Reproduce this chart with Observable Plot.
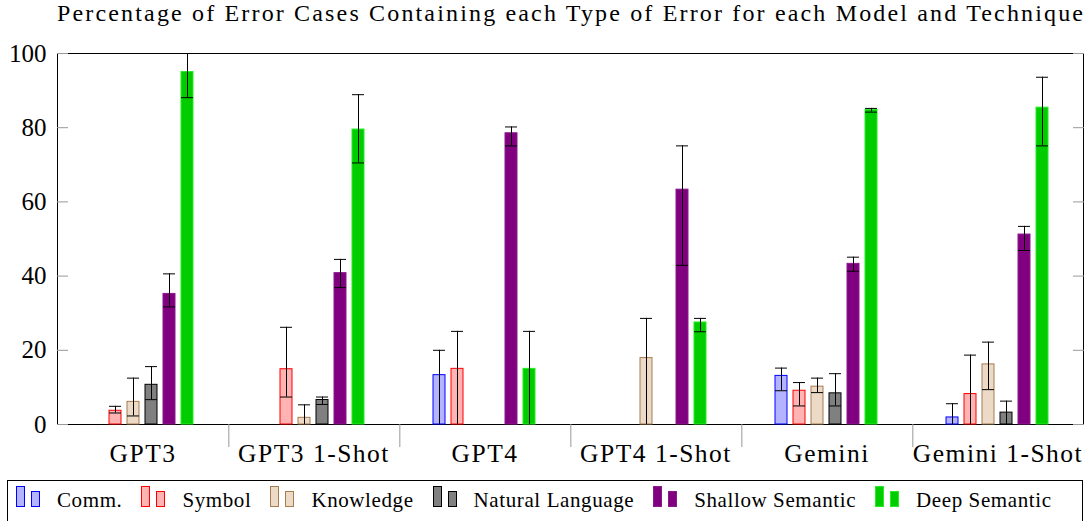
<!DOCTYPE html>
<html>
<head>
<meta charset="utf-8">
<script src="https://cdn.jsdelivr.net/npm/d3@7"></script>
<script src="https://cdn.jsdelivr.net/npm/@observablehq/plot@0.6"></script>
<style>
  body { margin: 0; background: #fff; font-family: "Liberation Serif", "Times New Roman", serif; }
  #wrap { position: relative; width: 1088px; height: 521px; overflow: hidden; background: #fff; }
  #title { position: absolute; left: 0; top: 0; }
  #chart { position: absolute; left: 0; top: 40px; }
  #chart g[aria-label="fx-axis tick label"] text { letter-spacing: 1.5px; }
  #legend {
    position: absolute; left: 7px; top: 480px; width: 1076px; height: 42px;
    border: 1px solid #000; box-sizing: border-box; display: flex; align-items: baseline;
    padding: 5px 0 0 8px; font-size: 21px; letter-spacing: 0.6px; line-height: 1; color: #000;
  }
  #legend > span { flex-shrink: 0; }
  #legend .ic { display: inline-block; box-sizing: border-box; width: 9px; border: 1px solid; }
  #legend .ic2 { margin-left: 6px; margin-right: 17px; }
  #legend .lab { margin-right: 19px; white-space: nowrap; }
</style>
</head>
<body>
<div id="wrap">
  <svg id="title" width="1088" height="40">
    <text x="570" y="21" text-anchor="middle" textLength="1026" lengthAdjust="spacing"
      font-size="24" font-family="'Liberation Serif', 'Times New Roman', serif" fill="#000">Percentage of Error Cases Containing each Type of Error for each Model and Technique</text>
  </svg>
  <div id="chart"></div>
  <div id="legend"></div>
</div>
<script>
// ---- data ----
const models = ["GPT3", "GPT3 1-Shot", "GPT4", "GPT4 1-Shot", "Gemini", "Gemini 1-Shot"];
const types = ["Comm.", "Symbol", "Knowledge", "Natural Language", "Shallow Semantic", "Deep Semantic"];
const yTicks = [0, 20, 40, 60, 80, 100];

const comm            = [0,    0,    13.3, 0,    13.1, 1.9];
const symbol          = [3.7,  14.9, 15.0, 0,    9.1,  8.2];
const knowledge       = [6.1,  1.8,  0,    17.9, 10.2, 16.2];
const naturalLanguage = [10.7, 6.6,  0,    0,    8.4,  3.2];
const shallowSemantic = [35.2, 40.8, 78.5, 63.3, 43.3, 51.2];
const deepSemantic    = [95.0, 79.5, 15.0, 27.5, 84.8, 85.4];

// error bar bounds (null = no error bar)
const commLow       = [null, null, 0,    null, 9.1,  0];
const commHigh      = [null, null, 20.0, null, 15.2, 5.6];
const symbolLow     = [3.1,  7.4,  0,    null, 5.0,  0];
const symbolHigh    = [4.9,  26.2, 25.1, null, 11.3, 18.7];
const knowledgeLow  = [2.3,  0,    null, 0,    8.6,  9.4];
const knowledgeHigh = [12.5, 5.3,  null, 28.6, 12.5, 22.2];
const naturalLow    = [6.7,  5.4,  null, null, 5.0,  0];
const naturalHigh   = [15.6, 7.4,  null, null, 13.7, 6.3];
const shallowLow    = [31.7, 36.9, 75.1, 42.9, 41.3, 46.9];
const shallowHigh   = [40.6, 44.5, 80.2, 75.1, 45.1, 53.4];
const deepLow       = [88.1, 70.5, 0,    25.0, 84.2, 75.1];
const deepHigh      = [103,  88.9, 25.1, 28.6, 85.2, 93.6];

// ---- styles ----
const fills   = ["#b3b3ff", "#ffb3b3", "#ecd9c6", "#808080", "#800080", "#00cc00"];
const strokes = ["#0000ff", "#ff0000", "#a67c52", "#000000", "#8a1a8a", "#22ee22"];

const values = [comm, symbol, knowledge, naturalLanguage, shallowSemantic, deepSemantic];
const lows   = [commLow, symbolLow, knowledgeLow, naturalLow, shallowLow, deepLow];
const highs  = [commHigh, symbolHigh, knowledgeHigh, naturalHigh, shallowHigh, deepHigh];

const rows = [];
types.forEach((t, i) => models.forEach((m, j) => rows.push({
  model: m, type: t, value: values[i][j], low: lows[i][j], high: highs[i][j]
})));
const errs = rows.filter(d => d.low != null);
const fillOf = Object.fromEntries(types.map((t, i) => [t, fills[i]]));
const strokeOf = Object.fromEntries(types.map((t, i) => [t, strokes[i]]));

const W = 1088, mL = 55, mR = 3;
const halfStep = (W - mL - mR) / models.length / 2;
const FONT = "'Liberation Serif', 'Times New Roman', serif";

const chart = Plot.plot({
  width: W, height: 438,
  marginTop: 13, marginLeft: mL, marginRight: mR, marginBottom: 54,
  style: { fontFamily: FONT, fontSize: "25px", color: "#000", background: "#fff" },
  fx: { domain: models, padding: 0, label: null },
  x: { domain: types, paddingInner: 0.32, paddingOuter: 1.775, axis: null },
  y: { domain: [0, 100], label: null },
  color: { type: "identity" },
  marks: [
    Plot.ruleY([0, 100], { stroke: "#000" }),
    Plot.frame({ anchor: "left", facetAnchor: "left", stroke: "#000" }),
    Plot.frame({ anchor: "right", facetAnchor: "right", stroke: "#000" }),
    Plot.barY(rows, { fx: "model", x: "type", y: "value",
      fill: d => fillOf[d.type], stroke: d => strokeOf[d.type], strokeWidth: 1 }),
    Plot.ruleX(errs, { fx: "model", x: "type", y1: "low", y2: "high", stroke: "#000", clip: true }),
    Plot.tickY(errs, { fx: "model", x: "type", y: "low", stroke: "#000", clip: true }),
    Plot.tickY(errs, { fx: "model", x: "type", y: "high", stroke: "#000", clip: true }),
    Plot.axisY({ anchor: "left", ticks: yTicks, tickSize: 0, tickPadding: 11, fontSize: 25, label: null }),
    Plot.axisY({ anchor: "left", ticks: yTicks, tickSize: 11, text: null, dx: 11, stroke: "#999", label: null }),
    Plot.axisY({ anchor: "right", ticks: yTicks, tickSize: 11, text: null, dx: -11, stroke: "#999", label: null }),
    Plot.axisFx({ anchor: "bottom", tickSize: 0, tickPadding: 19, fontSize: 25.5, label: null }),
    Plot.axisFx({ anchor: "bottom", ticks: models.slice(0, -1), tickSize: 23, text: null,
      dx: halfStep, stroke: "#999", label: null })
  ]
});
document.getElementById("chart").appendChild(chart);

// ---- legend ----
const legend = document.getElementById("legend");
types.forEach((t, i) => {
  const a = document.createElement("span");
  a.className = "ic";
  a.style.height = "21px"; a.style.background = fills[i]; a.style.borderColor = strokes[i];
  const b = document.createElement("span");
  b.className = "ic ic2";
  b.style.height = "16px"; b.style.background = fills[i]; b.style.borderColor = strokes[i];
  const l = document.createElement("span");
  l.className = "lab"; l.textContent = t;
  legend.append(a, b, l);
});
</script>
</body>
</html>
